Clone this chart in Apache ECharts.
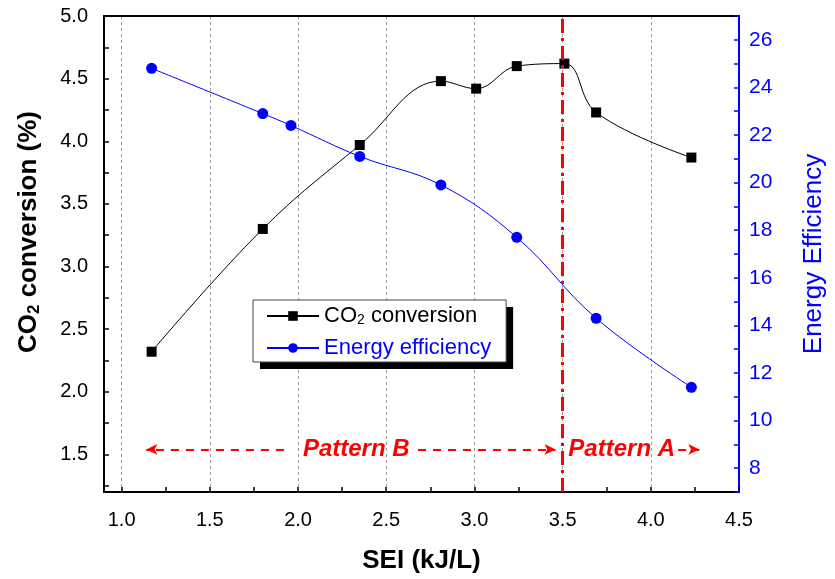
<!DOCTYPE html>
<html>
<head>
<meta charset="utf-8">
<script src="https://cdn.jsdelivr.net/npm/echarts@6/dist/echarts.min.js"></script>
<style>
  html, body { margin: 0; padding: 0; background: #fff; }
  #chart { width: 835px; height: 579px; }
</style>
</head>
<body>
<div id="chart"></div>
<script>
// SEI values (kJ/L) and measured CO2 conversion (%)
const seiConversion = [1.17, 1.80, 2.35, 2.81, 3.01, 3.24, 3.51, 3.69, 4.23];
const co2Conversion = [2.32, 3.30, 3.97, 4.48, 4.42, 4.60, 4.62, 4.23, 3.87];

// SEI values (kJ/L) and energy efficiency
const seiEfficiency = [1.17, 1.80, 1.96, 2.35, 2.81, 3.24, 3.69, 4.23];
const energyEfficiency = [24.8, 22.9, 22.4, 21.1, 19.9, 17.7, 14.3, 11.4];

// Axis tick labels and tick marks
const xTickLabels = [1.0, 1.5, 2.0, 2.5, 3.0, 3.5, 4.0, 4.5];
const xTickMarks = [1.0, 1.25, 1.5, 1.75, 2.0, 2.25, 2.5, 2.75, 3.0, 3.25, 3.5, 3.75, 4.0, 4.25, 4.5];
const leftTickLabels = [1.5, 2.0, 2.5, 3.0, 3.5, 4.0, 4.5, 5.0];
const leftTickMarks = [1.25, 1.5, 1.75, 2.0, 2.25, 2.5, 2.75, 3.0, 3.25, 3.5, 3.75, 4.0, 4.25, 4.5, 4.75, 5.0];
const rightTickLabels = [8, 10, 12, 14, 16, 18, 20, 22, 24, 26];
const rightTickMarks = [7, 8, 9, 10, 11, 12, 13, 14, 15, 16, 17, 18, 19, 20, 21, 22, 23, 24, 25, 26, 27];

// Regime boundary and region labels
const patternBoundary = 3.5;
const patternNames = ['Pattern B', 'Pattern A'];

const FONT = "'Liberation Sans', Arial, Helvetica, sans-serif";
const RED = '#ff0000';
const BLUE = '#0000ff';
const CLEAR = 'rgba(0,0,0,0)';

const chart = echarts.init(document.getElementById('chart'), null, { renderer: 'canvas' });

const dashedArrow = { color: RED, width: 2, type: [8, 7] };

// Shared legend layout; one copy paints the drop shadow, the other the framed entries
const legendNames = ['CO2 conversion', 'Energy efficiency'];
function legendBox(extra) {
  return Object.assign({
    orient: 'vertical',
    left: 253,
    top: 300,
    itemWidth: 52,
    itemHeight: 12,
    itemGap: 8,
    padding: [4, 15, 2, 13],
    borderRadius: 0,
    formatter: function (name) {
      return name === 'CO2 conversion' ? '{n|CO}{s|2}{n| conversion}' : name;
    }
  }, extra);
}
function legendText(ink) {
  return {
    fontFamily: FONT,
    fontSize: 22,
    lineHeight: 24,
    rich: {
      n: { fontFamily: FONT, fontSize: 22, color: ink, lineHeight: 24 },
      s: { fontFamily: FONT, fontSize: 14, color: ink, lineHeight: 24, padding: [9, 0, 0, 0] }
    }
  };
}

chart.setOption({
  animation: false,
  backgroundColor: '#fff',
  textStyle: { fontFamily: FONT },
  grid: { left: 104, right: 92, top: 16, bottom: 86 },
  legend: [
    legendBox({
      data: legendNames.map(function (n) { return { name: n, textStyle: { color: CLEAR } }; }),
      backgroundColor: '#fff',
      borderWidth: 0,
      shadowColor: '#000',
      shadowBlur: 0,
      shadowOffsetX: 7,
      shadowOffsetY: 7,
      itemStyle: { opacity: 0 },
      lineStyle: { opacity: 0 },
      textStyle: legendText(CLEAR),
      z: 5
    }),
    legendBox({
      data: [
        { name: legendNames[0], textStyle: { color: '#000' } },
        { name: legendNames[1], textStyle: { color: BLUE } }
      ],
      backgroundColor: CLEAR,
      borderColor: '#444',
      borderWidth: 1,
      textStyle: legendText('#000'),
      z: 6
    })
  ],
  xAxis: [
    {
      type: 'value',
      position: 'bottom',
      min: 0.9,
      max: 4.5,
      axisLine: { onZero: false, lineStyle: { color: '#000', width: 2 } },
      axisTick: { inside: true, length: 5, customValues: xTickMarks, lineStyle: { color: '#000', width: 1.5 } },
      axisLabel: {
        customValues: xTickLabels,
        formatter: function (v) { return v.toFixed(1); },
        fontSize: 20, color: '#000', margin: 18, fontFamily: FONT
      },
      splitLine: { show: false },
      name: 'SEI (kJ/L)',
      nameLocation: 'middle',
      nameGap: 56,
      nameTextStyle: { fontSize: 26, fontWeight: 'bold', color: '#000', fontFamily: FONT }
    },
    {
      type: 'value',
      position: 'top',
      min: 0.9,
      max: 4.5,
      axisLine: { onZero: false, lineStyle: { color: '#000', width: 2 } },
      axisTick: { show: false, customValues: xTickLabels },
      axisLabel: { show: false },
      splitLine: { show: true, lineStyle: { color: '#9a9a9a', width: 1, type: [3, 3] } }
    }
  ],
  yAxis: [
    {
      type: 'value',
      position: 'left',
      min: 1.2,
      max: 5.0,
      axisLine: { show: true, onZero: false, lineStyle: { color: '#000', width: 2 } },
      axisTick: { show: true, inside: true, length: 5, customValues: leftTickMarks, lineStyle: { color: '#000', width: 1.5 } },
      axisLabel: {
        customValues: leftTickLabels,
        formatter: function (v) { return v.toFixed(1); },
        fontSize: 20, color: '#000', margin: 16, fontFamily: FONT
      },
      splitLine: { show: false },
      name: '{b|CO}{bs|2}{b| conversion (%)}',
      nameLocation: 'middle',
      nameRotate: 90,
      nameGap: 60,
      nameTextStyle: {
        padding: [0, 0, 0, 44],
        rich: {
          b: { fontSize: 26, fontWeight: 'bold', color: '#000', fontFamily: FONT, lineHeight: 30 },
          bs: { fontSize: 17, fontWeight: 'bold', color: '#000', fontFamily: FONT, lineHeight: 30, padding: [10, 0, 0, 0] }
        }
      }
    },
    {
      type: 'value',
      position: 'right',
      min: 7,
      max: 27,
      axisLine: { show: true, onZero: false, lineStyle: { color: BLUE, width: 2 } },
      axisTick: { show: true, inside: true, length: 5, customValues: rightTickMarks, lineStyle: { color: BLUE, width: 1.5 } },
      axisLabel: { customValues: rightTickLabels, fontSize: 21, color: BLUE, margin: 10, fontFamily: FONT },
      splitLine: { show: false },
      name: 'Energy Efficiency',
      nameLocation: 'middle',
      nameRotate: 90,
      nameGap: 62,
      nameTextStyle: { fontSize: 26, color: BLUE, fontFamily: FONT }
    }
  ],
  series: [
    {
      name: 'CO2 conversion',
      type: 'line',
      xAxisIndex: 0,
      yAxisIndex: 0,
      data: seiConversion.map(function (x, i) { return [x, co2Conversion[i]]; }),
      smooth: 0.4,
      symbol: 'rect',
      symbolSize: 10,
      lineStyle: { color: '#000', width: 1 },
      itemStyle: { color: '#000' },
      z: 3,
      markLine: {
        silent: true,
        animation: false,
        symbol: ['none', 'none'],
        label: { show: false },
        emphasis: { disabled: true },
        data: [
          { xAxis: patternBoundary, lineStyle: { color: RED, width: 3, type: [14, 5, 3, 5] } },
          [
            { coord: [1.92, 1.54], lineStyle: dashedArrow },
            { coord: [1.14, 1.54], symbol: 'arrow', symbolSize: [8, 11] }
          ],
          [
            { coord: [2.68, 1.54], lineStyle: dashedArrow },
            { coord: [3.46, 1.54], symbol: 'arrow', symbolSize: [8, 11] }
          ],
          [
            { coord: [4.155, 1.54], lineStyle: dashedArrow },
            { coord: [4.275, 1.54], symbol: 'arrow', symbolSize: [8, 11] }
          ]
        ]
      },
      markPoint: {
        silent: true,
        animation: false,
        symbol: 'circle',
        symbolSize: 1,
        itemStyle: { color: CLEAR },
        label: {
          show: true,
          position: 'inside',
          formatter: function (p) { return p.name; },
          color: RED,
          fontSize: 24,
          fontWeight: 'bold',
          fontStyle: 'italic',
          fontFamily: FONT
        },
        data: [
          { name: patternNames[0], coord: [2.33, 1.54] },
          { name: patternNames[1], coord: [3.835, 1.54] }
        ]
      }
    },
    {
      name: 'Energy efficiency',
      type: 'line',
      xAxisIndex: 0,
      yAxisIndex: 1,
      data: seiEfficiency.map(function (x, i) { return [x, energyEfficiency[i]]; }),
      smooth: 0.4,
      symbol: 'circle',
      symbolSize: 11,
      lineStyle: { color: BLUE, width: 1 },
      itemStyle: { color: BLUE },
      z: 4
    }
  ]
});
</script>
</body>
</html>
